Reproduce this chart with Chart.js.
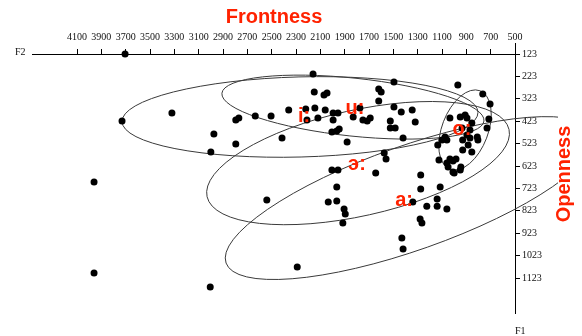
<!DOCTYPE html>
<html>
<head>
<meta charset="utf-8">
<script src="https://cdn.jsdelivr.net/npm/chart.js@4.4.1/dist/chart.umd.min.js"></script>
<style>
  html, body { margin: 0; padding: 0; background: #fff; }
  #wrap { width: 582px; height: 336px; }
</style>
</head>
<body>
<div id="wrap"><canvas id="vowel-chart" width="582" height="336"></canvas></div>
<script>
// measured tokens: F2 (Hz, x) and F1 (Hz, y)
const f2Values = [
  3705, 3730, 3320, 3960, 3960, 3005, 2290, 2540, 2975, 3000,
  2795, 2795, 2770, 2635, 2505, 2415, 2360, 2220, 2145, 2210,
  2120, 2160, 2150, 2070, 2045, 2060, 1995, 1955, 1995, 2005,
  1965, 1945, 1880, 1775, 1830, 1750, 1715, 1690, 1620, 1600,
  1620, 1495, 1495, 1435, 1345, 1320, 1525, 1525, 1485, 1420,
  1575, 1560, 2005, 1955, 1965, 2035, 1965, 1905, 1895, 1915,
  1645, 1275, 1275, 1115, 1340, 1225, 1140, 1140, 1060, 1280,
  1265, 1430, 1420, 1000, 950, 970, 765, 705, 715, 730,
  1035, 950, 910, 895, 935, 855, 870, 1075, 1100, 1060,
  1135, 930, 870, 810, 805, 885, 930, 855, 1125, 1035,
  1010, 985, 1060, 1050, 945, 1010, 895
];
const f1Values = [
  123, 422, 386, 694, 1101, 1163, 1074, 775, 480, 560,
  525, 418, 409, 400, 400, 498, 373, 369, 364, 418,
  409, 212, 293, 306, 297, 373, 386, 386, 418, 471,
  467, 458, 516, 364, 404, 418, 422, 409, 279, 293,
  333, 248, 360, 382, 373, 427, 422, 453, 453, 498,
  565, 592, 641, 641, 717, 784, 779, 815, 837, 877,
  654, 663, 726, 717, 784, 802, 770, 802, 815, 860,
  877, 944, 993, 654, 641, 261, 302, 346, 413, 453,
  409, 404, 395, 409, 453, 431, 462, 494, 507, 507,
  529, 507, 498, 494, 507, 529, 552, 560, 596, 592,
  601, 592, 610, 627, 627, 650, 485
];

const xTickValues = [4100, 3900, 3700, 3500, 3300, 3100, 2900, 2700, 2500, 2300, 2100, 1900, 1700, 1500, 1300, 1100, 900, 700, 500];
const yTickValues = [123, 223, 323, 423, 523, 623, 723, 823, 923, 1023, 1123];

// vowel means (label anchors)
const vowelNames = ['i:', 'u:', 'o:', 'э:', 'a:'];
const vowelF2 = [2234, 1815, 936, 1799, 1412];
const vowelF1 = [404, 364, 458, 614, 775];

// spread ellipses: centre, end of long axis, short/long ratio
const ellipseCenterF2 = [2267, 1832, 911, 1790, 1363];
const ellipseCenterF1 = [404, 360, 462, 610, 766];
const ellipseTipF2 = [804, 755, 788, 549, -149];
const ellipseTipF1 = [383, 422, 287, 460, 476];
const ellipseRatio = [0.225, 0.22, 0.55, 0.342, 0.267];

const red = '#ff2200';
const serif = "'Liberation Serif', 'Times New Roman', serif";
const sans = "'Liberation Sans', Arial, sans-serif";

const ellipsePlugin = {
  id: 'ellipses',
  beforeDatasetsDraw(chart) {
    const xs = chart.scales.x, ys = chart.scales.y, ctx = chart.ctx;
    ctx.save();
    ctx.strokeStyle = '#3a3a3a';
    ctx.lineWidth = 1;
    for (let i = 0; i < ellipseRatio.length; i++) {
      const cx = xs.getPixelForValue(ellipseCenterF2[i]);
      const cy = ys.getPixelForValue(ellipseCenterF1[i]);
      const tx = xs.getPixelForValue(ellipseTipF2[i]);
      const ty = ys.getPixelForValue(ellipseTipF1[i]);
      const a = Math.hypot(tx - cx, ty - cy);
      ctx.beginPath();
      ctx.ellipse(cx, cy, a, a * ellipseRatio[i], Math.atan2(ty - cy, tx - cx), 0, Math.PI * 2);
      ctx.stroke();
    }
    ctx.restore();
  }
};

const textPlugin = {
  id: 'texts',
  afterDraw(chart) {
    const xs = chart.scales.x, ys = chart.scales.y, ctx = chart.ctx;
    const area = chart.chartArea;
    ctx.save();
    // axis stub above the corner
    ctx.strokeStyle = '#000';
    ctx.lineWidth = 1;
    ctx.beginPath();
    ctx.moveTo(area.right + 0.5, 43);
    ctx.lineTo(area.right + 0.5, area.top);
    ctx.stroke();

    // vowel labels
    ctx.fillStyle = red;
    ctx.font = 'bold 20px ' + sans;
    ctx.textAlign = 'center';
    ctx.textBaseline = 'middle';
    vowelNames.forEach((v, i) => {
      ctx.fillText(v, xs.getPixelForValue(vowelF2[i]), ys.getPixelForValue(vowelF1[i]));
    });

    // titles
    ctx.textBaseline = 'alphabetic';
    ctx.fillText('Frontness', 274, 23);

    ctx.fillStyle = '#fff';
    ctx.fillRect(558, 116, 24, 118);
    ctx.save();
    ctx.translate(570, 174);
    ctx.rotate(-Math.PI / 2);
    ctx.fillStyle = red;
    ctx.fillText('Openness', 0, 0);
    ctx.restore();

    ctx.fillStyle = '#111';
    ctx.font = '10px ' + serif;
    ctx.textAlign = 'left';
    ctx.textBaseline = 'middle';
    ctx.fillText('F2', 15, 52);
    ctx.fillText('F1', 515, 331);
    ctx.restore();
  }
};

const tokens = f2Values.map((v, i) => ({ x: v, y: f1Values[i] }));

const vowelChart = new Chart(document.getElementById('vowel-chart').getContext('2d'), {
  type: 'scatter',
  data: {
    datasets: [{
      label: 'tokens',
      data: tokens,
      pointRadius: 3.5,
      pointBackgroundColor: '#000',
      pointBorderWidth: 0,
      clip: false
    }]
  },
  options: {
    responsive: false,
    animation: false,
    devicePixelRatio: 1,
    layout: { padding: { left: 32, right: 0, top: 0, bottom: 23 } },
    plugins: { legend: { display: false }, tooltip: { enabled: false } },
    scales: {
      x: {
        type: 'linear',
        position: 'top',
        reverse: true,
        min: 500,
        max: 4470,
        afterBuildTicks: s => { s.ticks = xTickValues.map(v => ({ value: v })); },
        afterFit: s => { s.height = 54; },
        grid: { drawOnChartArea: false, drawTicks: true, tickLength: 5, color: '#000' },
        border: { display: true, color: '#000', width: 1 },
        ticks: {
          autoSkip: false, maxRotation: 0, padding: 6, color: '#111',
          font: { family: serif, size: 10 },
          callback: v => String(v)
        }
      },
      y: {
        type: 'linear',
        position: 'right',
        reverse: true,
        min: 123,
        max: 1279,
        afterBuildTicks: s => { s.ticks = yTickValues.map(v => ({ value: v })); },
        afterFit: s => { s.width = 67; },
        grid: { drawOnChartArea: false, drawTicks: true, tickLength: 5, color: '#000' },
        border: { display: true, color: '#000', width: 1 },
        ticks: {
          autoSkip: false, padding: 2, color: '#111',
          font: { family: serif, size: 10 },
          callback: v => String(v)
        }
      }
    }
  },
  plugins: [ellipsePlugin, textPlugin]
});
</script>
</body>
</html>
